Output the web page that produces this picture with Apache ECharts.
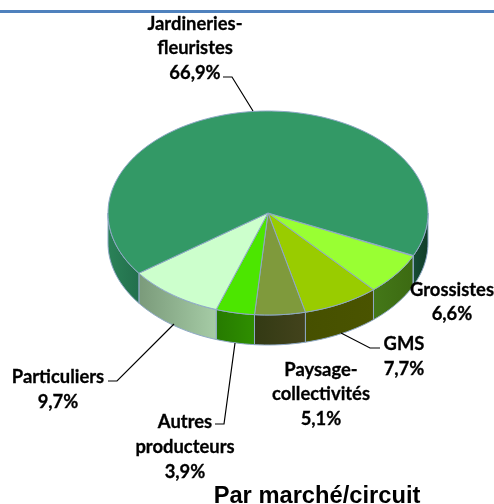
<!DOCTYPE html>
<html>
<head>
<meta charset="utf-8">
<style>html,body{margin:0;padding:0;background:#fff}#chart{width:494px;height:504px}</style>
<script src="https://cdn.jsdelivr.net/npm/echarts@6/dist/echarts.min.js"></script>
</head>
<body>
<div id="chart"></div>
<script>
// parts, from the Jardineries/Grossistes edge going clockwise
const names = ['Grossistes', 'GMS', 'Paysage-\ncollectivités', 'Autres\nproducteurs', 'Particuliers', 'Jardineries-\nfleuristes'];
const shares = [6.6, 7.7, 5.1, 3.9, 9.7, 66.9];
const topColors = ['#99ff33', '#99cc00', '#7f9a3c', '#4ce600', '#ccffcc', '#339966'];
// side wall colours, left to right for each part
const sideColors = [['#3c6a12', '#447818'], ['#4a5400', '#465000'], ['#43431c', '#333a14'], ['#2f8f00', '#267a00'], ['#a6cca6', '#7a9a7a'], ['#226f4c', '#2b8258']];
const rightWall = ['#174d35', '#103c28'];

// label anchors and leader lines, page pixels
const labelAt = [[452, 302], [404, 356.5], [321, 394.5], [185, 447], [58, 389.5], [195, 48.5]];
const leaders = [null, [[380, 348], [370, 348], [341, 333]], null,
    [[215, 424], [224, 424], [235, 343]], [[108, 381], [117, 381], [174, 324]],
    [[223, 77], [232, 77], [253, 111]]];

const cx = 268, cy = 213, rx = 160, ry = 102, depth = 30, startDeg = 25;
const edge = '#8fa9c6';

function rim(a, b, dy) {
    const pts = [];
    const n = Math.max(2, Math.ceil(Math.abs(b - a) / 2));
    for (let i = 0; i <= n; i++) {
        const t = (a + (b - a) * i / n) * Math.PI / 180;
        pts.push([cx + rx * Math.cos(t), cy + ry * Math.sin(t) + dy]);
    }
    return pts;
}

function wall(a, b, from, to) {
    const fill = new echarts.graphic.LinearGradient(0, 0, 1, 0, [
        {offset: 0, color: from}, {offset: 1, color: to}
    ]);
    return {
        type: 'polygon', z2: 1,
        shape: {points: rim(a, b, 0).concat(rim(b, a, depth))},
        style: {fill: fill, stroke: edge, lineWidth: 1}
    };
}

function renderSlice(params, api) {
    const i = params.dataIndex;
    let a = startDeg;
    for (let k = 0; k < i; k++) a += shares[k] * 3.6;
    const b = a + api.value(0) * 3.6;
    const kids = [];

    // only the front half of the disc shows a wall
    if (a < 180) {
        const [from, to] = sideColors[i];
        kids.push(wall(a, Math.min(b, 180), to, from));
    }
    if (b > 360) kids.push(wall(360, b, rightWall[0], rightWall[1]));

    kids.push({
        type: 'polygon', z2: 2,
        shape: {points: [[cx, cy]].concat(rim(a, b, 0))},
        style: {fill: topColors[i], stroke: edge, lineWidth: 1}
    });
    if (leaders[i]) {
        kids.push({
            type: 'polyline', z2: 3,
            shape: {points: leaders[i]},
            style: {fill: null, stroke: '#000', lineWidth: 1.2}
        });
    }
    kids.push({
        type: 'text', z2: 4,
        x: labelAt[i][0], y: labelAt[i][1],
        style: {
            text: names[i] + '\n' + shares[i].toFixed(1).replace('.', ',') + '%',
            font: 'bold 18.4px Lato',
            lineHeight: 24.6,
            fill: '#000',
            stroke: '#000',
            lineWidth: 0.3,
            align: 'center',
            verticalAlign: 'middle'
        }
    });
    return {type: 'group', children: kids};
}

const chart = echarts.init(document.getElementById('chart'));
chart.setOption({
    animation: false,
    backgroundColor: '#fff',
    title: {
        text: 'Par marché/circuit',
        left: 312, top: 479, textAlign: 'center',
        textStyle: {fontFamily: 'Liberation Sans', fontWeight: 'bold', fontSize: 23.7, color: '#000'}
    },
    graphic: [{
        type: 'rect',
        shape: {x: 0, y: 10, width: 494, height: 3},
        style: {fill: '#4f81bd'}
    }],
    series: [{
        type: 'custom',
        coordinateSystem: 'none',
        data: shares.map(function (v) { return [v]; }),
        renderItem: renderSlice
    }]
});
</script>
</body>
</html>
